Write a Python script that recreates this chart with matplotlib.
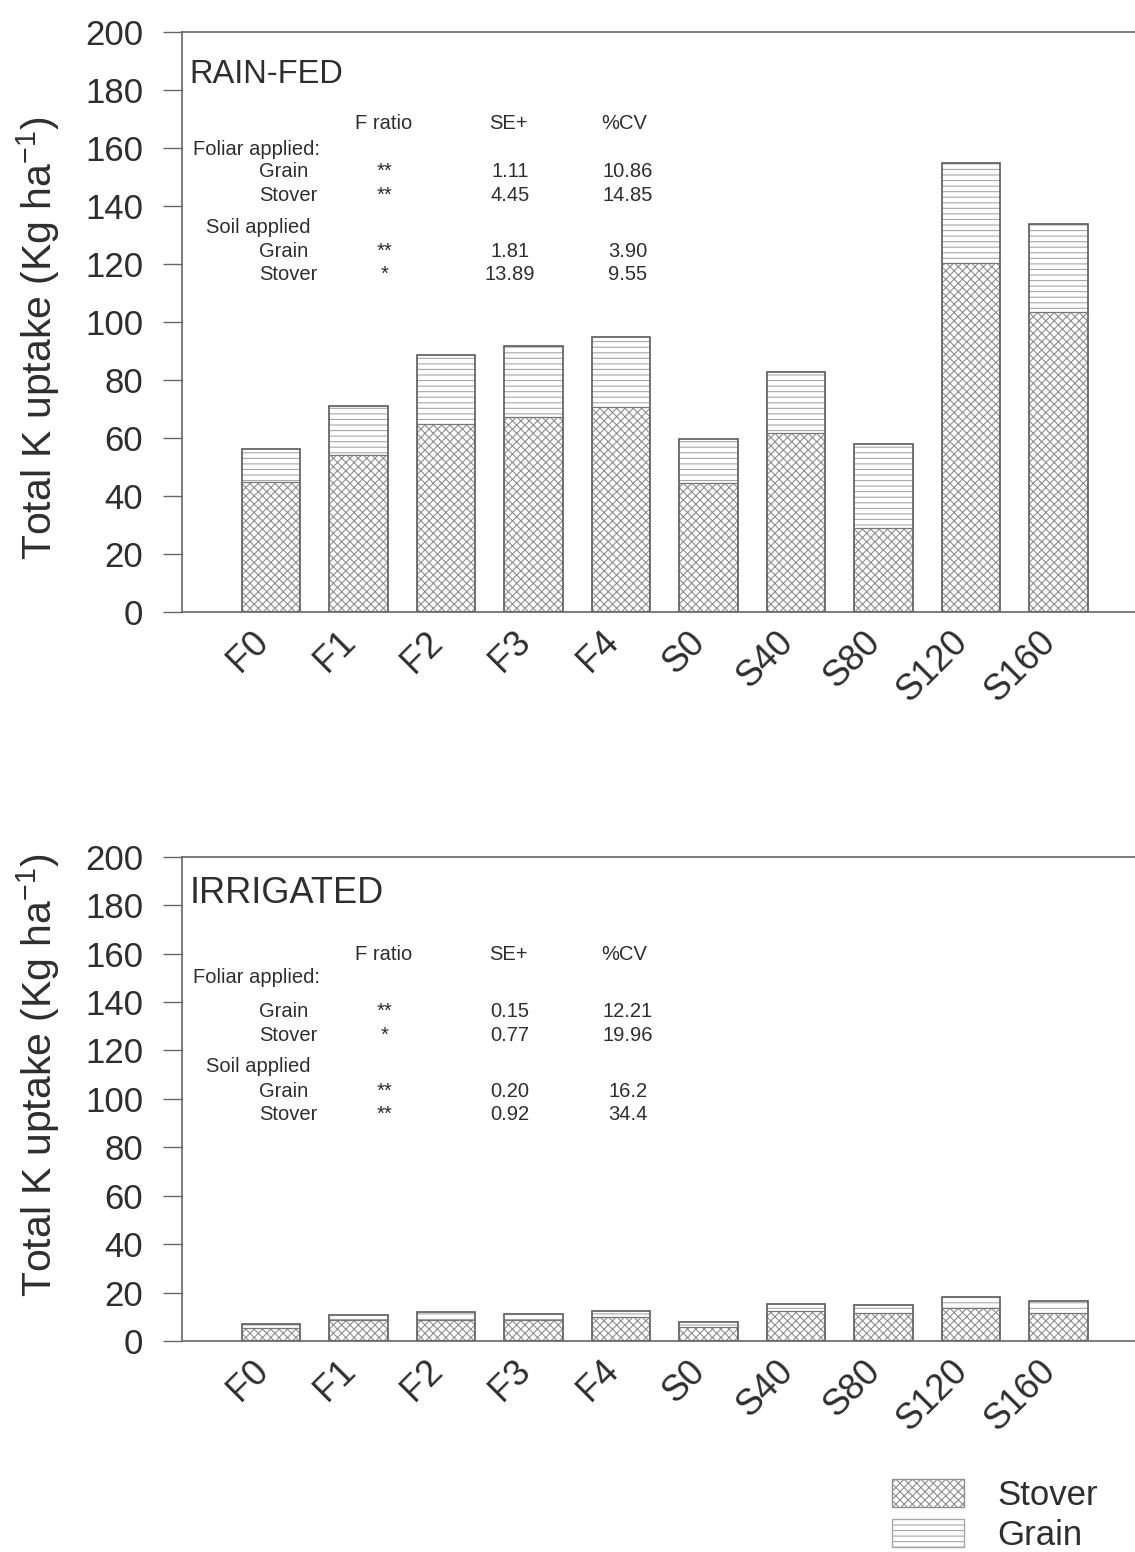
import numpy as np
import matplotlib
matplotlib.use('Agg')
import matplotlib.pyplot as plt
import matplotlib.patches as mpatches
import matplotlib.transforms as mtransforms

plt.rcParams['font.family'] = ['Liberation Sans', 'DejaVu Sans']
plt.rcParams['hatch.linewidth'] = 0.8

treatments = ['F0', 'F1', 'F2', 'F3', 'F4', 'S0', 'S40', 'S80', 'S120', 'S160']

# K uptake (kg/ha) split into stover and grain
rainfed_stover = [44.7, 54.1, 64.7, 67.1, 70.8, 44.4, 61.6, 29.1, 120.2, 103.6]
rainfed_grain = [11.6, 17.0, 23.9, 24.6, 24.1, 15.1, 21.3, 28.7, 34.7, 30.2]
irrigated_stover = [5.5, 8.5, 8.5, 8.5, 9.8, 5.9, 12.5, 11.4, 13.6, 11.6]
irrigated_grain = [1.3, 2.1, 3.4, 2.5, 2.7, 2.0, 2.7, 3.4, 4.7, 4.8]

# ANOVA summary (foliar grain, foliar stover, soil grain, soil stover)
stat_parts = ['Grain', 'Stover', 'Grain', 'Stover']
rainfed_f = ['**', '**', '**', '*']
rainfed_se = ['1.11', '4.45', '1.81', '13.89']
rainfed_cv = ['10.86', '14.85', '3.90', '9.55']
irrigated_f = ['**', '*', '**', '**']
irrigated_se = ['0.15', '0.77', '0.20', '0.92']
irrigated_cv = ['12.21', '19.96', '16.2', '34.4']

TXT = '#2e2e2e'
LINE = '#666666'
STOVER_HATCH = '#8f8f8f'
GRAIN_HATCH = '#a8a8a8'


def draw_panel(ax, stover, grain, title, title_size, label_y, f_col, se_col, cv_col, rows_y):
    x = np.arange(len(treatments))
    w = 0.665
    stover = np.array(stover)
    grain = np.array(grain)

    ax.bar(x, stover, w, color='white', edgecolor=STOVER_HATCH, hatch='xxxx', linewidth=0)
    ax.bar(x, grain, w, bottom=stover, color='white', edgecolor=GRAIN_HATCH, hatch='---', linewidth=0)
    ax.bar(x, stover + grain, w, fill=False, edgecolor='#5a5a5a', linewidth=1.2)
    ax.plot([x - w / 2, x + w / 2], [stover, stover], color='#777777', lw=0.9)

    ax.set_xlim(-1.017, 9.874)
    ax.set_ylim(0, 200)
    ax.set_yticks(np.arange(0, 201, 20))
    ax.set_xticks(x)
    ax.set_xticklabels(treatments, rotation=45, ha='right', va='top')
    ax.tick_params(axis='y', length=14, width=1.0, color=LINE, pad=14,
                   labelsize=25, labelcolor=TXT)
    ax.tick_params(axis='x', length=0, pad=9, labelsize=26, labelcolor=TXT)
    # nudge the rotated category labels a little to the right
    shift = mtransforms.ScaledTranslation(4 / 100, 0, ax.figure.dpi_scale_trans)
    for tick in ax.xaxis.get_major_ticks():
        tick.label1.set_transform(tick.label1.get_transform() + shift)
    for s in ['left', 'top', 'bottom']:
        ax.spines[s].set_color(LINE)
        ax.spines[s].set_linewidth(1.2)
    ax.spines['right'].set_visible(False)
    ax.set_ylabel('Total K uptake (Kg ha$^{\\mathregular{-1}}$)', fontsize=29.5, color=TXT)
    ax.yaxis.set_label_coords(-0.126, label_y)

    ax.text(0.008, rows_y[0], title, transform=ax.transAxes, fontsize=title_size,
            color=TXT, va='baseline')

    # ANOVA table
    fs = 14.5
    kw = dict(transform=ax.transAxes, fontsize=fs, color=TXT, va='baseline')
    ax.text(0.1815, rows_y[1], 'F ratio', ha='left', **kw)
    ax.text(0.342, rows_y[1], 'SE+', ha='center', **kw)
    ax.text(0.464, rows_y[1], '%CV', ha='center', **kw)
    ax.text(0.012, rows_y[2], 'Foliar applied:', ha='left', **kw)
    ax.text(0.025, rows_y[5], 'Soil applied', ha='left', **kw)
    for i, yy in enumerate([rows_y[3], rows_y[4], rows_y[6], rows_y[7]]):
        ax.text(0.081, yy, stat_parts[i], ha='left', **kw)
        ax.text(0.212, yy, f_col[i], ha='center', **kw)
        ax.text(0.344, yy, se_col[i], ha='center', **kw)
        ax.text(0.468, yy, cv_col[i], ha='center', **kw)


fig = plt.figure(figsize=(11.35, 15.52), dpi=100)
ax1 = fig.add_axes([0.1604, 0.6057, 0.8396, 0.3737])
ax2 = fig.add_axes([0.1604, 0.1360, 0.8396, 0.3119])

draw_panel(ax1, rainfed_stover, rainfed_grain, 'RAIN-FED', 23.5, 0.472,
           rainfed_f, rainfed_se, rainfed_cv,
           [0.912, 0.833, 0.788, 0.750, 0.709, 0.653, 0.612, 0.572])
draw_panel(ax2, irrigated_stover, irrigated_grain, 'IRRIGATED', 26, 0.55,
           irrigated_f, irrigated_se, irrigated_cv,
           [0.905, 0.787, 0.740, 0.669, 0.620, 0.556, 0.504, 0.457])

handles = [mpatches.Patch(facecolor='white', edgecolor=STOVER_HATCH, hatch='xxxx', lw=1.0),
           mpatches.Patch(facecolor='white', edgecolor=GRAIN_HATCH, hatch='---', lw=1.0)]
leg = fig.legend(handles, ['Stover', 'Grain'], loc='lower left',
                 bbox_to_anchor=(0.786, 0.0), frameon=False, fontsize=25,
                 handlelength=2.07, handleheight=0.86, handletextpad=0.95,
                 labelspacing=0.2, borderpad=0, borderaxespad=0)
for t in leg.get_texts():
    t.set_color(TXT)

fig.savefig('out.png', dpi=100)
